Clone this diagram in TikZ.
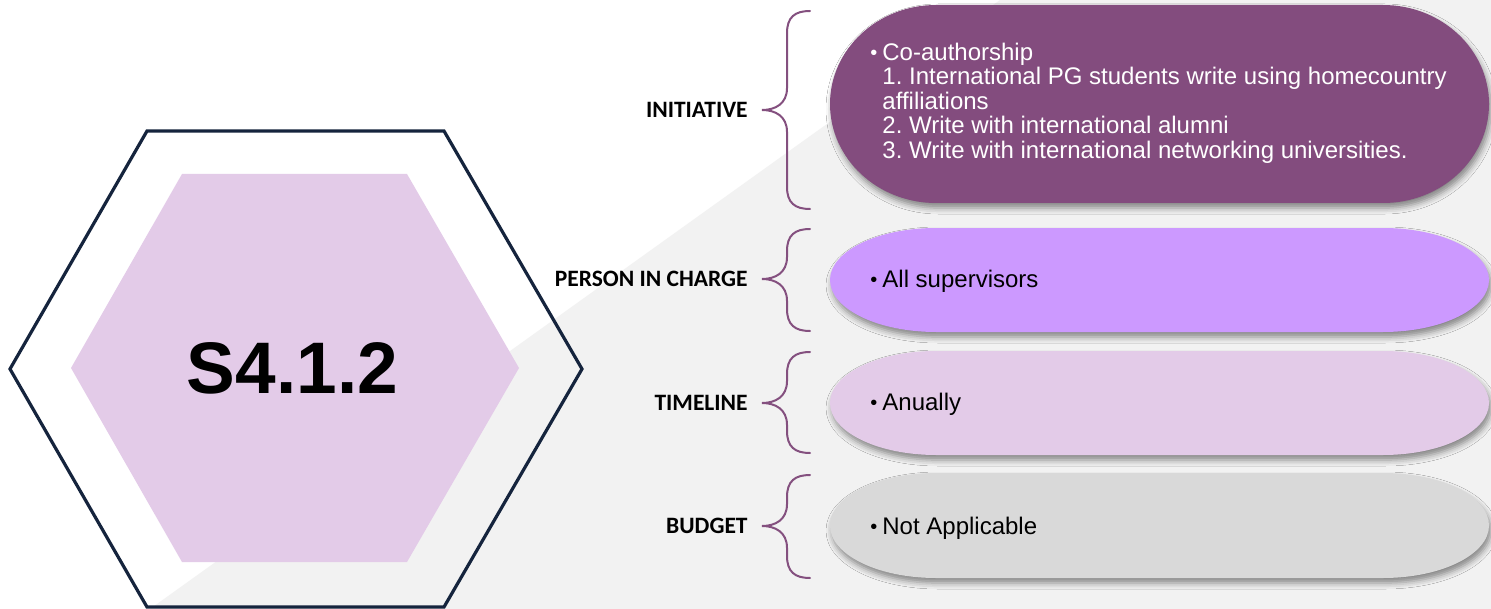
\documentclass[tikz,border=0pt]{standalone}
\usepackage{fontspec}
\setmainfont{Liberation Sans}
\newfontfamily\calib{Carlito}
\usetikzlibrary{shadows,shadows.blur}
\definecolor{bggray}{HTML}{F2F2F2}
\definecolor{hexline}{HTML}{15243D}
\definecolor{lav}{HTML}{E3CBE8}
\definecolor{plum}{HTML}{834C7E}
\definecolor{lilac}{HTML}{CC99FF}
\definecolor{pgray}{HTML}{D9D9D9}
\definecolor{bracec}{HTML}{84507F}
\frenchspacing
\newcommand\bulbox{\makebox[6pt][l]{\raisebox{0.4pt}{\fontsize{10}{10}\selectfont\textbullet}}}
% terminator-shaped pill: #1 top y, #2 bottom y, #3 half height in pt
\newcommand\pillpath[3]{(936,#1) -- (1383,#1)
  arc[start angle=90, end angle=-90, x radius=53pt, y radius=#3]
  -- (936,#2) arc[start angle=270, end angle=90, x radius=53pt, y radius=#3] -- cycle}
\begin{document}
\begin{tikzpicture}[x=0.5pt,y=-0.5pt,
  pill/.style={draw=none,
    blur shadow={shadow xshift=1pt, shadow yshift=-2.5pt, shadow blur radius=3pt, shadow opacity=45}},
  lbl/.style={anchor=east, font=\calib\bfseries\fontsize{11.75}{14}\selectfont, inner sep=0pt},
  ptext/.style={anchor=base west, inner sep=0pt, align=left, font=\fontsize{12}{12.25}\selectfont},
  brc/.style={draw=bracec, line width=1pt, line cap=round},
  hexo/.style={draw=hexline, line width=1.6pt, line join=miter}]
\useasboundingbox (0,0) rectangle (1491,609);
\fill[white] (0,0) rectangle (1491,609);
\fill[bggray] (150,609) -- (1000,0) -- (1491,0) -- (1491,609) -- cycle;
% hexagons
\fill[lav] (182,174) -- (407,174) -- (519,368) -- (407,562) -- (182,562) -- (71,368) -- cycle;
\draw[hexo] (147,131) -- (444,131) -- (582,369) -- (444,607) -- (147,607) -- (10,369) -- cycle;
\node[font=\bfseries\fontsize{36.5}{40}\selectfont, inner sep=0pt] (code) at (292.5,368) {S4.1.2};
% pills
\path[pill, fill=plum] \pillpath{5}{203}{49.5pt};
\path[pill, fill=lilac] \pillpath{228}{332}{26pt};
\path[pill, fill=lav] \pillpath{351}{455}{26pt};
\path[pill, fill=pgray] \pillpath{473}{578}{26.25pt};
% pill texts
\node[ptext, text=white] (t1) at (870,158.5) {\bulbox Co-authorship\\
\hspace*{6pt}1. International PG students write using homecountry\\
\hspace*{6pt}affiliations\\
\hspace*{6pt}2. Write with international alumni\\
\hspace*{6pt}3. Write with international networking universities.};
\node[ptext] (t2) at (870,287.6) {\bulbox All supervisors};
\node[ptext] (t3) at (870,410.6) {\bulbox Anually};
\node[ptext] (t4) at (870,534.6) {\bulbox Not Applicable};
% labels
\node[lbl] (l1) at (748,110) {INITIATIVE};
\node[lbl] (l2) at (748,279) {PERSON IN CHARGE};
\node[lbl] (l3) at (748,403) {TIMELINE};
\node[lbl] (l4) at (748,526) {BUDGET};
% braces
\foreach \a/\b/\m in {11/209/110, 229/331/279, 352/453/403, 475/578/526}{
  \draw[brc] (810,\a) .. controls (795,\a) and (787,\a+6) .. (787,\a+22)
    -- (787,\m-22) .. controls (787,\m-6) and (775,\m) .. (762,\m)
    .. controls (775,\m) and (787,\m+6) .. (787,\m+22)
    -- (787,\b-22) .. controls (787,\b-6) and (795,\b) .. (810,\b);
}
\end{tikzpicture}
\end{document}
